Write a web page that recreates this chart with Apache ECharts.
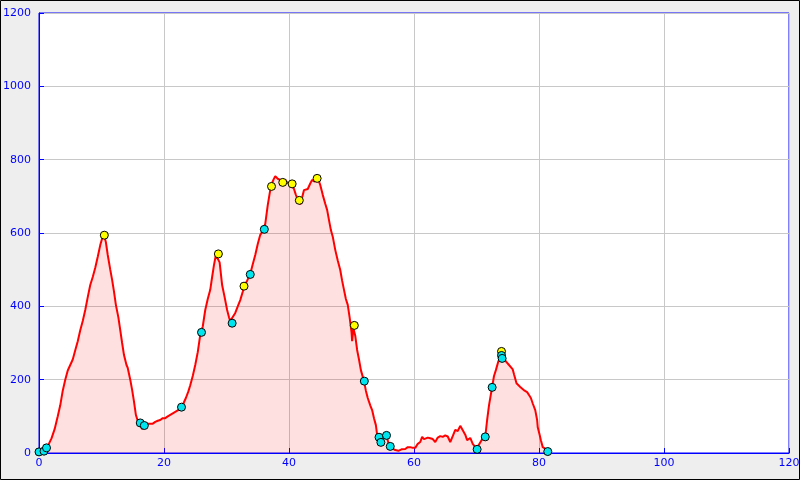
<!DOCTYPE html>
<html>
<head>
<meta charset="utf-8">
<script src="https://cdn.jsdelivr.net/npm/echarts@6/dist/echarts.min.js"></script>
<style>html,body{margin:0;padding:0;background:#eeeeee;}#c{width:800px;height:480px;}</style>
</head>
<body>
<div id="c"></div>
<script>
const distance = [0,0.5,1.0,1.5,2.0,2.5,3.0,3.4,3.8,4.2,4.6,5.0,5.4,5.8,6.2,6.6,7.0,7.4,7.8,8.2,8.6,9.0,9.4,9.8,10.1,10.4,10.7,11.0,11.4,11.7,12.0,12.3,12.7,13.0,13.3,13.6,14.0,14.2,14.6,14.9,15.2,15.5,15.8,16.2,16.5,16.8,17.2,17.5,17.8,18.2,18.6,19.0,19.4,19.8,20.2,20.6,21.0,21.4,21.8,22.2,22.7,23.1,23.5,23.9,24.2,24.6,25.0,25.4,25.8,26.2,26.6,27.0,27.4,27.7,28.0,28.3,28.6,28.9,29.3,29.7,30.1,30.4,30.6,30.9,31.4,31.8,32.2,32.6,32.8,33.3,33.8,34.2,34.6,35.0,35.4,35.8,36.2,36.6,37.1,37.5,37.8,38.2,38.6,39.0,39.4,39.8,40.2,40.5,40.8,41.1,41.4,41.8,42.0,42.4,43.0,43.4,43.7,44.1,44.5,44.8,45.0,45.4,45.8,46.1,46.4,46.7,47.0,47.4,47.8,48.2,48.5,48.8,49.1,49.4,49.7,50.0,50.1,50.3,50.6,50.9,51.2,51.5,52.0,52.3,52.6,53.0,53.3,53.6,53.9,54.1,54.4,54.8,55.2,55.6,55.9,56.2,56.6,57.0,57.5,58.0,58.6,59.0,59.4,59.8,60.2,60.6,61.0,61.3,61.6,61.8,62.2,62.6,63.0,63.4,63.8,64.2,64.6,65.0,65.4,65.8,66.2,66.6,67.0,67.4,67.8,68.2,68.5,69.0,69.4,70.0,70.5,71.0,71.4,71.7,72.0,72.5,72.8,73.1,73.5,73.8,74.3,74.7,75.1,75.4,75.8,76.0,76.4,76.6,77.0,77.3,77.7,78.1,78.4,78.7,79.0,79.4,79.7,79.8,80.1,80.3,80.6,81.0,81.4];
const elevation = [0,4,10,22,40,65,100,130,170,200,225,240,255,280,305,335,360,390,425,458,480,505,535,567,585,595,575,540,500,472,440,404,370,335,300,267,240,232,200,172,140,104,88,76,65,72,74,80,76,80,85,88,90,95,95,100,104,108,112,116,125,135,150,168,185,210,240,275,322,345,390,420,445,480,513,540,543,520,458,425,390,370,360,362,382,400,417,440,455,470,488,515,540,570,595,605,625,676,728,745,755,748,745,740,745,736,738,734,720,704,692,678,690,717,720,735,745,740,750,740,731,704,680,663,635,608,590,554,525,499,470,445,420,404,370,330,305,340,320,281,255,226,196,170,150,130,117,95,76,50,42,35,45,48,28,18,12,8,6,10,11,16,16,14,14,25,30,44,38,35,42,40,38,30,42,46,44,48,45,30,46,63,60,74,62,50,35,41,25,12,26,40,44,90,130,180,210,226,250,262,262,250,242,240,228,215,190,185,180,177,170,166,158,150,135,117,90,70,50,35,16,12,5];

const summitX = [10.45,28.7,32.8,37.2,39.0,40.5,41.65,44.5,50.45,74.0];
const summitY = [594,543,455,727,738,734,689,749,348,277];
const pointX = [0,0.8,1.2,16.2,16.85,22.8,26.0,30.9,33.8,36.05,52.05,54.4,54.7,55.6,56.2,70.1,71.4,72.5,74.0,74.1,81.4];
const pointY = [3,5,14,82,75,125,329,354,487,610,196,43,29,48,18,10,44,179,266,258,4];

const xTicks = {min:0, max:120, interval:20};
const yTicks = {min:0, max:1200, interval:200};

const zip = (a,b) => a.map((v,i)=>[v,b[i]]);
const blue = '#0000ff';
const labelStyle = {color: blue, fontFamily: 'DejaVu Sans', fontSize: 11, formatter: v => String(v)};

const chart = echarts.init(document.getElementById('c'), null, {renderer:'canvas'});
chart.setOption({
  backgroundColor: '#eeeeee',
  animation: false,
  grid: {left:39, right:11, top:13, bottom:27, containLabel:false, outerBoundsMode:'none', show:true, backgroundColor:'#ffffff', borderColor: blue, borderWidth:1},
  xAxis: {
    type:'value', min:xTicks.min, max:xTicks.max, interval:xTicks.interval,
    axisLine:{show:true, lineStyle:{color:blue, width:1}},
    axisTick:{show:true, inside:true, length:5, lineStyle:{color:blue}},
    axisLabel:Object.assign({margin:5}, labelStyle),
    splitLine:{show:true, lineStyle:{color:'#c8c8c8', width:1}}
  },
  yAxis: {
    type:'value', min:yTicks.min, max:yTicks.max, interval:yTicks.interval,
    axisLine:{show:true, lineStyle:{color:blue, width:1}},
    axisTick:{show:true, inside:true, length:5, lineStyle:{color:blue}},
    axisLabel:Object.assign({margin:8}, labelStyle),
    splitLine:{show:true, lineStyle:{color:'#c8c8c8', width:1}}
  },
  graphic: [{type:'rect', shape:{x:0.5,y:0.5,width:799,height:479}, style:{fill:'none', stroke:'#000', lineWidth:1}, z:100}],
  series: [
    {type:'line', data: zip(distance, elevation), showSymbol:false, symbol:'none',
     lineStyle:{color:'#ff0000', width:2}, areaStyle:{color:'rgba(255,0,0,0.12)', opacity:1}, z:2},
    {type:'scatter', data: zip(summitX, summitY), symbol:'circle', symbolSize:8,
     itemStyle:{color:'#ffff00', borderColor:'#000', borderWidth:1, opacity:1}, z:3},
    {type:'scatter', data: zip(pointX, pointY), symbol:'circle', symbolSize:8,
     itemStyle:{color:'#00e5ee', borderColor:'#000', borderWidth:1, opacity:1}, z:4}
  ]
});
</script>
</body>
</html>
